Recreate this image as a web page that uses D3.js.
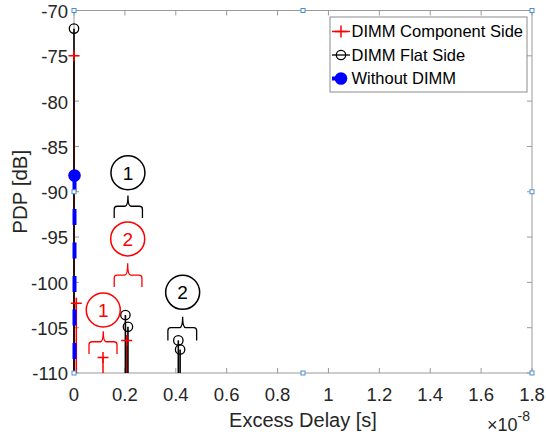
<!DOCTYPE html>
<html>
<head>
<meta charset="utf-8">
<script src="https://cdn.jsdelivr.net/npm/d3@7"></script>
<style>
  html, body { margin: 0; padding: 0; background: #fff; }
  svg { display: block; font-family: "Liberation Sans", Arial, sans-serif; }
</style>
</head>
<body>
<div id="chart"></div>
<script>
// x in units of 1e-8 s, y in dB
const xTicks = [0, 0.2, 0.4, 0.6, 0.8, 1, 1.2, 1.4, 1.6, 1.8];
const yTicks = [-110, -105, -100, -95, -90, -85, -80, -75, -70];

const componentX = [0, 0.009, 0.114, 0.207];
const componentY = [-75, -102.3, -108.3, -106.4];

const flatX = [0, 0.202, 0.212, 0.41, 0.417];
const flatY = [-72, -103.6, -104.9, -106.4, -107.4];

const withoutX = [0];
const withoutY = [-88.2];

const legendLabels = ["DIMM Component Side", "DIMM Flat Side", "Without DIMM"];

// numbered callouts with braces (data coords)
const callouts = [
  { label: "1", color: "#000", cx: 0.212, cy: -87.9, x0: 0.158, x1: 0.269, tip: -90.4, mid: -91.6, bot: -92.9 },
  { label: "2", color: "#f00", cx: 0.211, cy: -95.2, x0: 0.158, x1: 0.267, tip: -97.9, mid: -99.2, bot: -100.5 },
  { label: "1", color: "#f00", cx: 0.115, cy: -103.05, x0: 0.059, x1: 0.169, tip: -105.4, mid: -106.55, bot: -107.9 },
  { label: "2", color: "#000", cx: 0.427, cy: -101.1, x0: 0.369, x1: 0.482, tip: -103.8, mid: -105.0, bot: -106.4 }
];

const width = 546, height = 440;
const margin = { top: 10.5, right: 14, bottom: 67, left: 74 };
const axisColor = "#9a9a9a";
const textColor = "#262626";

const svg = d3.select("#chart").append("svg")
  .attr("width", width)
  .attr("height", height);

const x = d3.scaleLinear().domain([0, 1.8]).range([margin.left, width - margin.right]);
const y = d3.scaleLinear().domain([-110, -70]).range([height - margin.bottom, margin.top]);

const [x0, x1] = x.range();
const [yb, yt] = y.range();

// --- axes box + inward ticks ---
svg.append("rect")
  .attr("x", x0).attr("y", yt)
  .attr("width", x1 - x0).attr("height", yb - yt)
  .attr("fill", "none").attr("stroke", axisColor).attr("stroke-width", 1);

const tickLen = 5;
xTicks.forEach(t => {
  svg.append("line").attr("x1", x(t)).attr("x2", x(t)).attr("y1", yb).attr("y2", yb - tickLen)
    .attr("stroke", axisColor);
  svg.append("line").attr("x1", x(t)).attr("x2", x(t)).attr("y1", yt).attr("y2", yt + tickLen)
    .attr("stroke", axisColor);
  svg.append("text")
    .attr("x", x(t)).attr("y", yb + 28)
    .attr("text-anchor", "middle")
    .attr("fill", textColor).style("font-size", "18.5px")
    .text(String(t));
});
yTicks.forEach(t => {
  svg.append("line").attr("x1", x0).attr("x2", x0 + tickLen).attr("y1", y(t)).attr("y2", y(t))
    .attr("stroke", axisColor);
  svg.append("line").attr("x1", x1).attr("x2", x1 - tickLen).attr("y1", y(t)).attr("y2", y(t))
    .attr("stroke", axisColor);
  svg.append("text")
    .attr("x", x0 - 6).attr("y", y(t)).attr("dy", "0.4em")
    .attr("text-anchor", "end")
    .attr("fill", textColor).style("font-size", "18.5px")
    .text(String(t));
});

// axis labels
svg.append("text")
  .attr("x", (x0 + x1) / 2).attr("y", 427)
  .attr("text-anchor", "middle")
  .attr("fill", textColor).style("font-size", "20px")
  .text("Excess Delay [s]");

svg.append("text")
  .attr("transform", `translate(27,${(yt + yb) / 2}) rotate(-90)`)
  .attr("text-anchor", "middle")
  .attr("fill", textColor).style("font-size", "20.5px")
  .text("PDP [dB]");

const expo = svg.append("text")
  .attr("x", 487).attr("y", 431)
  .attr("fill", textColor).style("font-size", "18px");
expo.append("tspan").text("\u00d710");
expo.append("tspan").attr("dy", -10).style("font-size", "14px").text("-8");

// --- stems ---
function stems(xs, ys, color, w) {
  xs.forEach((v, i) => {
    svg.append("line")
      .attr("x1", x(v)).attr("x2", x(v))
      .attr("y1", yb).attr("y2", y(ys[i]))
      .attr("stroke", color).attr("stroke-width", w);
  });
}

// component side (red, plus) - drawn beneath the black stems
stems(componentX, componentY, "#f00", 1.5);
function plus(cx, cy, s, color) {
  svg.append("path")
    .attr("d", `M${cx - s},${cy}H${cx + s}M${cx},${cy - s}V${cy + s}`)
    .attr("stroke", color).attr("stroke-width", 1.5).attr("fill", "none");
}

// flat side (black, open circles)
stems(flatX, flatY, "#000", 1.6);
flatX.forEach((v, i) => {
  svg.append("circle").attr("cx", x(v)).attr("cy", y(flatY[i])).attr("r", 4.7)
    .attr("fill", "none").attr("stroke", "#000").attr("stroke-width", 1.3);
});
componentX.forEach((v, i) => plus(x(v), y(componentY[i]), 5.5, "#f00"));

// without DIMM (blue, dashed, filled dot) - stem drawn from marker down
withoutX.forEach((v, i) => {
  svg.append("line")
    .attr("x1", x(v) + 0.5).attr("x2", x(v) + 0.5)
    .attr("y1", y(withoutY[i])).attr("y2", yb)
    .attr("stroke", "#0000ff").attr("stroke-width", 4)
    .attr("stroke-dasharray", "16,17.5");
  svg.append("circle").attr("cx", x(v) + 0.5).attr("cy", y(withoutY[i])).attr("r", 6.3)
    .attr("fill", "#0000ff");
});

// --- selection handles on axes box ---
const xm = (x0 + x1) / 2, ym = (yt + yb) / 2;
[[x0, yt], [xm, yt], [x1, yt], [x0, ym], [x1, ym], [x0, yb], [xm, yb], [x1, yb]].forEach(([hx, hy]) => {
  svg.append("rect")
    .attr("x", hx - 2).attr("y", hy - 2).attr("width", 4).attr("height", 4)
    .attr("fill", "#fff").attr("stroke", "#4a8fd4").attr("stroke-width", 1);
});

// --- callouts ---
callouts.forEach(c => {
  svg.append("circle")
    .attr("cx", x(c.cx)).attr("cy", y(c.cy)).attr("r", 17)
    .attr("fill", "none").attr("stroke", c.color).attr("stroke-width", 1.5);
  svg.append("text")
    .attr("x", x(c.cx)).attr("y", y(c.cy)).attr("dy", "0.36em")
    .attr("text-anchor", "middle")
    .attr("fill", c.color).style("font-size", "19px")
    .text(c.label);
  const L = x(c.x0), R = x(c.x1), M = x(c.cx);
  const T = y(c.tip), H = y(c.mid), B = y(c.bot), r = 3;
  svg.append("path")
    .attr("d", `M${L},${B}V${H + r}Q${L},${H} ${L + r},${H}H${M - r}Q${M},${H} ${M},${T}` +
               `Q${M},${H} ${M + r},${H}H${R - r}Q${R},${H} ${R},${H + r}V${B}`)
    .attr("fill", "none").attr("stroke", c.color).attr("stroke-width", 1.3);
});

// --- legend ---
const lg = svg.append("g").attr("transform", "translate(330,17)");
lg.append("rect").attr("width", 197).attr("height", 75)
  .attr("fill", "#fff").attr("stroke", "#8c8c8c").attr("stroke-width", 1);
legendLabels.forEach((lab, i) => {
  const cy = 14.5 + i * 23.5;
  lg.append("text").attr("x", 21.5).attr("y", cy).attr("dy", "0.36em")
    .attr("fill", "#000").style("font-size", "16.5px").text(lab);
  if (i === 0) {
    lg.append("line").attr("x1", 2).attr("x2", 20).attr("y1", cy).attr("y2", cy)
      .attr("stroke", "#f00").attr("stroke-width", 1.5);
    lg.append("path").attr("d", `M11,${cy - 6}V${cy + 6}M5,${cy}H17`)
      .attr("stroke", "#f00").attr("stroke-width", 1.5);
  } else if (i === 1) {
    lg.append("line").attr("x1", 2).attr("x2", 20).attr("y1", cy).attr("y2", cy)
      .attr("stroke", "#000").attr("stroke-width", 1.3);
    lg.append("circle").attr("cx", 11).attr("cy", cy).attr("r", 4.7)
      .attr("fill", "none").attr("stroke", "#000").attr("stroke-width", 1.3);
  } else {
    lg.append("line").attr("x1", 2).attr("x2", 16).attr("y1", cy).attr("y2", cy)
      .attr("stroke", "#0000ff").attr("stroke-width", 4);
    lg.append("circle").attr("cx", 11).attr("cy", cy).attr("r", 6.3)
      .attr("fill", "#0000ff");
  }
});
</script>
</body>
</html>
